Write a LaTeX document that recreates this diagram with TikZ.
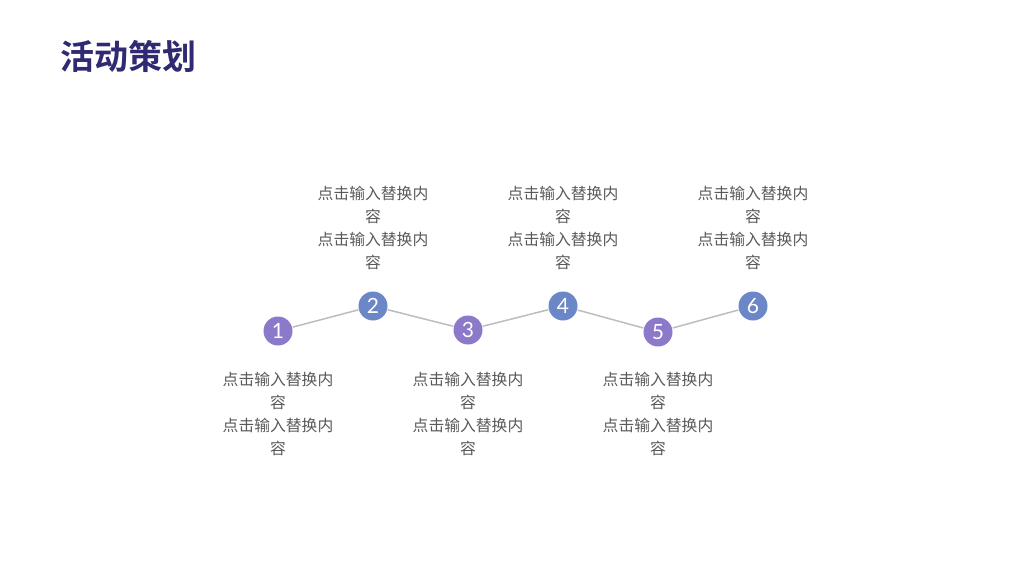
\documentclass[tikz,border=0pt]{standalone}
\usepackage{fontspec}
\setmainfont{Lato}
\newfontfamily\cjk{Noto Sans CJK SC}[BoldFont={Noto Sans CJK SC Bold}]
\definecolor{titleblue}{HTML}{2F2A72}
\definecolor{dotpurple}{HTML}{8C79C9}
\definecolor{dotblue}{HTML}{6B87C7}
\definecolor{linegray}{HTML}{BDBDBD}
\definecolor{txtgray}{HTML}{595959}

\begin{document}
\begin{tikzpicture}[x=1pt,y=-1pt]
\tikzstyle{every path}=[line width=1.5pt];
\tikzstyle{dot}=[circle,inner sep=0pt,minimum size=29pt,text=white,font=\fontsize{21}{21}\selectfont];
\tikzstyle{info}=[align=center,text=txtgray,font=\cjk\fontsize{15.8}{23}\selectfont];
\useasboundingbox (0,0) rectangle (1024,576);
\node (T) [anchor=west,text=titleblue,font=\cjk\bfseries\fontsize{34}{34}\selectfont] at (56,56) {活动策划};
% step dots
\node (D1) [dot,fill=dotpurple] at (278,331) {1};
\node (D2) [dot,fill=dotblue] at (373,306) {2};
\node (D3) [dot,fill=dotpurple] at (468,330) {3};
\node (D4) [dot,fill=dotblue] at (563,306) {4};
\node (D5) [dot,fill=dotpurple] at (658,332) {5};
\node (D6) [dot,fill=dotblue] at (753,306) {6};
\draw[linegray] (D1) -- (D2) -- (D3) -- (D4) -- (D5) -- (D6);
% texts above
\node (A2) [info] at (373,228) {点击输入替换内\\容\\点击输入替换内\\容};
\node (A4) [info] at (563,228) {点击输入替换内\\容\\点击输入替换内\\容};
\node (A6) [info] at (753,228) {点击输入替换内\\容\\点击输入替换内\\容};
% texts below
\node (B1) [info] at (278,414) {点击输入替换内\\容\\点击输入替换内\\容};
\node (B3) [info] at (468,414) {点击输入替换内\\容\\点击输入替换内\\容};
\node (B5) [info] at (658,414) {点击输入替换内\\容\\点击输入替换内\\容};
\end{tikzpicture}
\end{document}
